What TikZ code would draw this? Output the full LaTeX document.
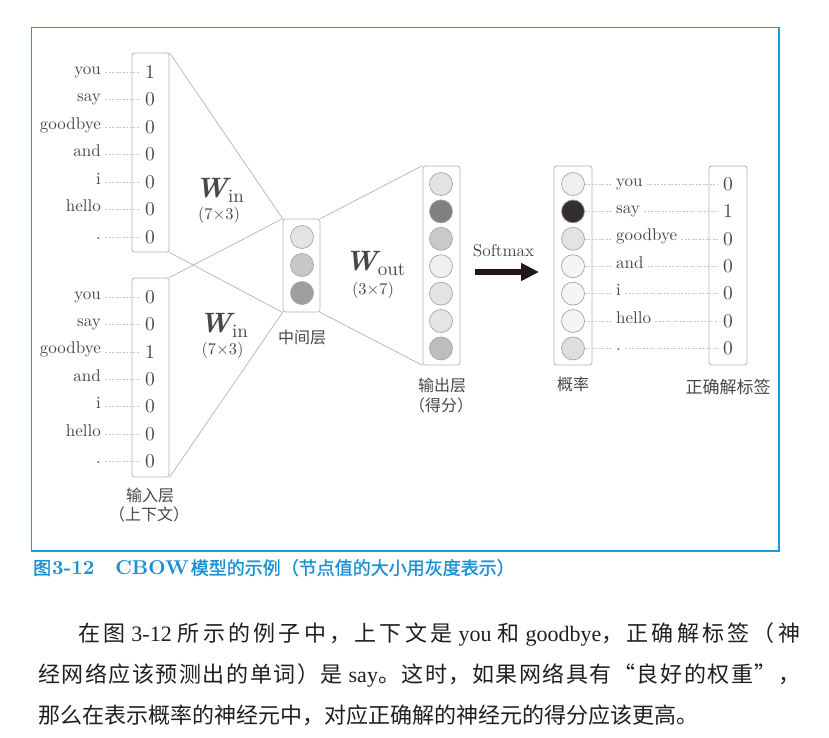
\documentclass[tikz,border=0pt]{standalone}
\usepackage{fontspec}
\setmainfont{lmroman10-regular.otf}[BoldFont=lmroman10-bold.otf, ItalicFont=lmroman10-italic.otf, BoldItalicFont=lmroman10-bolditalic.otf]
\usetikzlibrary{arrows.meta}
\newfontfamily\cjk{Noto Sans CJK SC}
\newfontfamily\cjkcap{Noto Sans CJK SC}[FakeBold=1.2]
\newfontfamily\lat{Liberation Serif}
\definecolor{framec}{RGB}{30,154,214}
\definecolor{capc}{RGB}{26,145,210}
\definecolor{txt}{RGB}{75,70,70}
\definecolor{boxc}{RGB}{180,180,180}
\definecolor{circc}{RGB}{165,165,165}
\definecolor{dashc}{RGB}{200,200,200}
\definecolor{darkn}{RGB}{52,47,46}
\definecolor{arrc}{RGB}{35,24,21}
\definecolor{bodyc}{RGB}{35,30,30}
% inter-character stretch for justified Chinese lines
\XeTeXinterchartokenstate=1
\newXeTeXintercharclass\cjkcls
\makeatletter
\count@="3000 \loop\ifnum\count@<"3040 \XeTeXcharclass\count@=\cjkcls \advance\count@ 1 \repeat
\count@="4E00 \loop\ifnum\count@<"A000 \XeTeXcharclass\count@=\cjkcls \advance\count@ 1 \repeat
\count@="FF00 \loop\ifnum\count@<"FFF0 \XeTeXcharclass\count@=\cjkcls \advance\count@ 1 \repeat
\XeTeXcharclass"201C=\cjkcls
\XeTeXcharclass"201D=\cjkcls
\makeatother
\XeTeXinterchartoks\cjkcls\cjkcls={\hskip0pt plus 1fil\relax}
\newcommand{\wsym}[1]{{\bfseries\itshape W}\kern0.5pt\raisebox{-5pt}{\fontsize{19}{19}\selectfont #1}}
\newcommand{\lw}[1]{\hspace{6pt}{\lat #1}\hspace{6pt}}
\newcommand{\lwb}[1]{\hspace{6pt}{\lat #1}}
\tikzset{
 wd/.style={font=\fontsize{17}{17}\selectfont, text=txt, inner sep=4pt},
 dig/.style={font=\fontsize{19.5}{19.5}\selectfont, text=txt, inner sep=5pt},
 lay/.style={draw=boxc, rounded corners=2.5pt, line width=0.8pt, minimum width=37pt, inner sep=0pt},
 neu/.style={circle, draw=circc, line width=0.7pt, minimum size=23pt, inner sep=0pt},
 dl/.style={draw=dashc, line width=0.6pt, dash pattern=on 2pt off 1.5pt},
 ln/.style={draw=boxc, line width=0.7pt},
 zh/.style={font=\cjk\fontsize{16}{16}\selectfont, text=txt, inner sep=0pt},
 wlab/.style={font=\fontsize{28}{28}\selectfont, text=txt, inner sep=0pt, anchor=base},
 dimlab/.style={font=\fontsize{16.4}{16.4}\selectfont, text=txt, inner sep=0pt},
 bodyline/.style={anchor=base west, inner sep=0pt, text=bodyc, font=\cjk\fontsize{22}{22}\selectfont},
}
\begin{document}
\begin{tikzpicture}[x=1pt,y=-1pt]
\useasboundingbox (0,0) rectangle (829,737);
\fill[white] (0,0) rectangle (829,737);
% frame
\node[draw=framec, line width=1.2pt, minimum width=747.3pt, minimum height=523.3pt, inner sep=0pt] (frame) at (405.35,289.35) {};

% layer boxes
\node[lay, minimum height=199pt] (in1) at (150.5,152.5) {};
\node[lay, minimum height=199pt] (in2) at (150.5,377.5) {};
\node[lay, minimum height=93pt] (mid) at (301.5,265.5) {};
\node[lay, minimum height=199pt] (out) at (441.5,265.5) {};
\node[lay, minimum width=38pt, minimum height=199pt] (prob) at (573,265.5) {};
\node[lay, minimum width=38pt, minimum height=199pt] (lab) at (728,265.5) {};

% connectors between layers
\draw[ln] (in1.north east) -- (mid.north west);
\draw[ln] (in1.south east) -- (mid.south west);
\draw[ln] (in2.north east) -- (mid.north west);
\draw[ln] (in2.south east) -- (mid.south west);
\draw[ln] (mid.north east) -- (out.north west);
\draw[ln] (mid.south east) -- (out.south west);

% input 1
\foreach \w/\d [count=\i from 0] in {you/1,say/0,goodbye/0,and/0,i/0,hello/0,./0}{
  \node[wd, anchor=mid east] (aw\i) at (105,72+27.5*\i) {\w};
  \node[dig] (ad\i) at (150,72+27.5*\i) {\d};
  \draw[dl] (aw\i.mid east) -- (ad\i.west);
}
% input 2
\foreach \w/\d [count=\i from 0] in {you/0,say/0,goodbye/1,and/0,i/0,hello/0,./0}{
  \node[wd, anchor=mid east] (bw\i) at (105,297+27.4*\i) {\w};
  \node[dig] (bd\i) at (150,297+27.4*\i) {\d};
  \draw[dl] (bw\i.mid east) -- (bd\i.west);
}
% middle neurons
\foreach \c [count=\i from 0] in {black!11,black!22,black!38}{
  \node[neu, fill=\c] (m\i) at (302,237+28*\i) {};
}
% output neurons
\foreach \c [count=\i from 0] in {black!11,black!50,black!21,black!6,black!11,black!10,black!26}{
  \node[neu, fill=\c] (o\i) at (441,184+27.4*\i) {};
}
% probability neurons, words, labels
\foreach \c/\w/\d [count=\i from 0] in {black!6/you/0,darkn/say/1,black!11/goodbye/0,black!4/and/0,black!4/i/0,black!4/hello/0,black!13/./0}{
  \node[neu, fill=\c] (p\i) at (573,184+27.4*\i) {};
  \node[wd, anchor=mid west] (pw\i) at (612,184+27.4*\i) {\w};
  \node[dig] (ld\i) at (728,184+27.4*\i) {\d};
  \draw[dl] (p\i.east) -- (pw\i.mid west);
  \draw[dl] (pw\i.mid east) -- (ld\i.west);
}

% weight labels
\node[wlab] (win1) at (219.5,197) {\wsym{in}};
\node[dimlab] (win1d) at (219,215.5) {(7×3)};
\node[wlab] (win2) at (223.5,332) {\wsym{in}};
\node[dimlab] (win2d) at (222.5,350.5) {(7×3)};
\node[wlab] (wout) at (375,270) {\wsym{out}};
\node[dimlab] (woutd) at (373,290) {(3×7)};

% softmax arrow
\node[font=\fontsize{17}{17}\selectfont, text=txt, inner sep=0pt, anchor=base] (smx) at (503.5,256) {Softmax};
\coordinate (sa) at (475,272);
\coordinate (sb) at (539,272);
\draw[arrc, line width=5.5pt, -{Triangle[length=18pt,width=17pt]}] (sa) -- (sb);

% layer names
\node[zh] (tmid) at (302,337) {中间层};
\node[zh] (tout) at (442,385) {输出层};
\node[zh] (tout2) at (441,405) {（得分）};
\node[zh] (tprob) at (573,384) {概率};
\node[zh, font=\cjk\fontsize{17}{17}\selectfont] (tlab) at (728,387) {正确解标签};
\node[zh] (tin) at (150,495) {输入层};
\node[zh] (tin2) at (149,514.5) {（上下文）};

% caption
\node[anchor=base west, inner sep=0pt, text=capc] (cap) at (33,574.5)
 {{\cjkcap\fontsize{18}{18}\selectfont 图}\kern1pt{\bfseries\fontsize{20}{20}\selectfont 3-12}\hspace{21pt}{\bfseries\fontsize{20}{20}\selectfont CBOW}\kern2pt{\cjkcap\fontsize{18}{18}\selectfont 模型的示例（节点值的大小用灰度表示）}};

% body text
\node[bodyline] (l1) at (38,641.4) {\hbox to 762pt{\hspace*{40pt}在图\lw{3-12}所示的例子中，上下文是\lw{you}和\lwb{goodbye}，正确解标签（神}};
\node[bodyline] (l2) at (38,682.4) {\hbox to 762pt{经网络应该预测出的单词）是\lwb{say}。这时，如果网络具有“良好的权重”，}};
\node[bodyline] (l3) at (38,723.4) {那么在表示概率的神经元中，对应正确解的神经元的得分应该更高。};
\end{tikzpicture}
\end{document}
